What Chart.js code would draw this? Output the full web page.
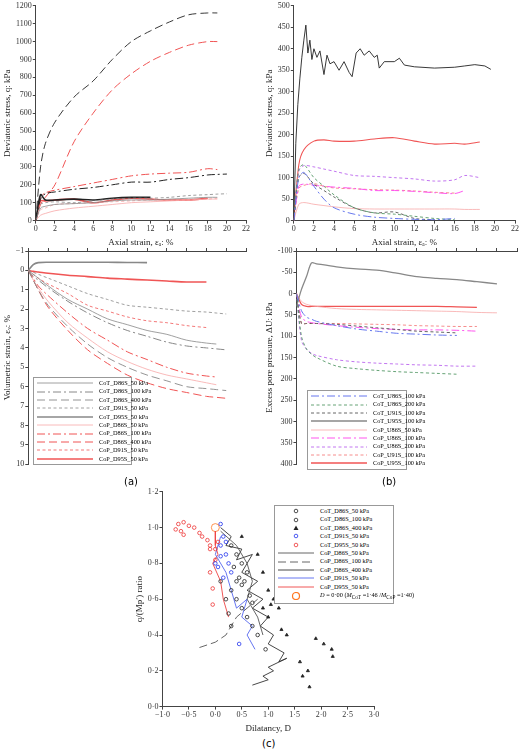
<!DOCTYPE html>
<html><head><meta charset="utf-8">
<script src="https://cdn.jsdelivr.net/npm/chart.js@4"></script>
<style>
body{margin:0;background:#fff;width:520px;height:755px;position:relative;overflow:hidden;font-family:"Liberation Serif",serif}
.box{position:absolute}
.leg{position:absolute;background:#fff;border:1px solid #999;font-size:6.3px;line-height:8.4px;padding:1px 3px}
.leg div{display:flex;align-items:center;white-space:nowrap}
.leg svg{margin-right:6px;flex:none}
.lab{position:absolute;font-family:"DejaVu Sans",sans-serif;font-size:10px}
</style></head><body>
<div class="box" style="left:0;top:0;width:252px;height:250px"><canvas id="c1"></canvas></div>
<div class="box" style="left:262px;top:0;width:258px;height:250px"><canvas id="c2"></canvas></div>
<div class="box" style="left:0;top:244px;width:252px;height:226px"><canvas id="c3"></canvas></div>
<div class="box" style="left:262px;top:244px;width:258px;height:226px"><canvas id="c4"></canvas></div>
<div class="box" style="left:132px;top:486px;width:250px;height:250px"><canvas id="c5"></canvas></div>
<div class="leg" id="l3" style="left:33px;top:377px;width:91px"></div>
<div class="leg" id="l4" style="left:307px;top:390px;width:92px"></div>
<div class="leg" id="l5" style="left:274px;top:505px;width:112px"></div>
<div class="lab" style="left:124px;top:476px">(a)</div>
<div class="lab" style="left:382px;top:476px">(b)</div>
<div class="lab" style="left:262px;top:738px">(c)</div>
<script>
// ---- (a) drained, q vs axial strain ----
const tlX = [0, 0.5, 1, 2, 4, 6, 8, 10, 12, 14, 16, 18, 19, 20];
const qT86_50  = [0, 70, 80, 90, 95, 100, 110, 115, 115, 120, 125, 130, 130, null];
const qT86_100 = [0, 120, 150, 160, 175, 185, 200, 215, 215, 230, 240, 255, 258, 260];
const qT86_400 = [0, 300, 430, 550, 690, 780, 900, 1000, 1060, 1110, 1150, 1160, 1160, null];
const qT91_50  = [0, 90, 100, 105, 100, 110, 120, 125, 125, 130, 140, 145, 148, 150];
const qT95_50  = [0, 145, 115, 115, 120, 115, 125, 130, 130, null, null, null, null, null];
const qP86_50  = [0, 30, 40, 55, 70, 80, 90, 100, 105, 110, 115, 120, 120, null];
const qP86_100 = [0, 130, 155, 170, 190, 210, 230, 250, 260, 265, 270, 290, 285, null];
const qP86_400 = [0, 90, 130, 200, 440, 600, 730, 820, 890, 940, 980, 1000, 1000, null];
const qP91_50  = [0, 60, 70, 90, 95, 100, 105, 110, 115, 115, 115, 120, 125, null];
const qP95_50  = [0, 110, 110, 115, 120, 100, 115, 125, 120, 115, 115, 125, null, null];

const evT86_50  = [0, 0.2, 0.4, 0.8, 1.5, 2.0, 2.5, 2.8, 3.1, 3.3, 3.6, 3.75, 3.8, null];
const evT86_100 = [0, 0.3, 0.5, 0.9, 1.6, 2.2, 2.7, 3.1, 3.4, 3.7, 3.9, 4.0, 4.05, 4.1];
const evT86_400 = [0, 0.5, 1.0, 1.8, 2.9, 3.8, 4.5, 5.0, 5.4, 5.7, 6.0, 6.1, 6.15, 6.2];
const evT91_50  = [0, 0.1, 0.2, 0.4, 0.8, 1.2, 1.5, 1.8, 1.9, 2.0, 2.1, 2.15, 2.2, 2.25];
const evT95_50  = [0, -0.3, -0.4, -0.42, -0.42, -0.42, -0.42, -0.41, -0.4, null, null, null, null, null];
const evP86_50  = [0, 0.5, 0.9, 1.6, 2.7, 3.5, 4.2, 4.7, 5.1, 5.4, 5.6, 5.8, 5.9, null];
const evP86_100 = [0, 0.4, 0.8, 1.3, 2.2, 3.0, 3.6, 4.2, 4.6, 5.0, 5.3, 5.45, 5.5, null];
const evP86_400 = [0, 0.5, 1.0, 1.9, 3.1, 4.1, 4.8, 5.4, 5.8, 6.1, 6.3, 6.5, 6.55, 6.6];
const evP91_50  = [0, 0.2, 0.4, 0.7, 1.2, 1.8, 2.1, 2.4, 2.6, 2.7, 2.85, 2.95, null, null];
const evP95_50  = [0, 0.05, 0.08, 0.15, 0.25, 0.32, 0.4, 0.45, 0.5, 0.55, 0.6, 0.6, null, null];

// ---- (b) undrained ----
const uT95X = [0,0.2,0.4,0.6,0.8,1.0,1.2,1.4,1.6,1.8,2.0,2.3,2.6,3.0,3.3,3.6,4.0,4.5,5.0,5.5,5.8,6.2,6.6,7.0,7.5,8.0,8.3,8.5,9,10,10.5,11,12,14,16,17,18,19,19.6];
const qUT95 = [0,180,270,330,380,420,455,390,420,375,400,380,395,340,385,365,370,350,370,345,335,390,400,385,395,380,385,355,370,370,378,362,358,355,357,360,363,360,352];
const trX = [0, 0.5, 1, 2, 3, 4, 6, 8, 10, 12, 14, 16, 17, 18.5];
const qUP95_100 = [0, 130, 165, 185, 188, 185, 185, 190, 193, 185, 178, 180, 178, 183];
const qUP86_200 = [0, 115, 128, 125, 120, 115, 105, 103, 100, 97, 92, 95, 105, 100];
const qUP86_100 = [0, 80, 85, 82, 80, 78, 75, 70, 70, 68, 65, 63, 70, null];
const qUP91_100 = [0, 75, 82, 86, 80, 76, 74, 72, 71, 69, 66, 64, null, null];
const qUT86_200 = [0, 120, 130, 100, 80, 60, 30, 18, 15, 10, 5, 2, null, null];
const qUT91_100 = [0, 100, 110, 85, 70, 55, 30, 18, 20, 5, 2, null, null, null];
const qUT86_100 = [0, 100, 112, 80, 50, 30, 15, 8, 5, 3, 2, 5, null, null];
const qUP86_50  = [0, 38, 42, 38, 35, 32, 28, 27, 27, 27, 27, 27, 26, 26];

const brX = [0, 0.5, 1, 1.5, 2, 4, 6, 8, 10, 12, 14, 16, 18, 20];
const duT95_100 = [30, -10, -40, -72, -70, -63, -58, -55, -48, -40, -36, -33, -28, -23];
const duP95_100 = [0, 25, 30, 30, 30, 30, 30, 30, 30, 30, 30, 31, 32, null];
const duP86_50  = [0, 18, 25, 28, 30, 35, 37, 38, 39, 40, 41, 42, 44, 45];
const duT86_100 = [0, 40, 55, 60, 65, 75, 83, 88, 93, 95, 97, 98, null, null];
const duT91_100 = [0, 70, 70, 70, 70, 72, 76, 80, 84, 88, 90, 92, null, null];
const duP91_100 = [0, 70, 70, 70, 70, 70, 71, 72, 73, 75, 76, 77, 77, null];
const duP86_100 = [0, 55, 65, 68, 70, 75, 79, 82, 84, 85, 85, 86, 88, null];
const duP86_200 = [0, 110, 130, 140, 145, 155, 160, 163, 165, 167, 168, 170, 170, null];
const duT86_200 = [0, 100, 130, 142, 150, 170, 176, 180, 183, 185, 187, 189, null, null];

// ---- (c) stress ratio vs dilatancy ----
const dT86_50 = [[0.3,0.9],[0.4,0.85],[0.5,0.8],[0.3,0.65],[0.4,0.6],[0.5,0.55],[0.6,0.5],[0.7,0.45],[0.8,0.4],[0.95,0.32],[0.3,0.45],[0.2,0.6],[0.1,0.7],[0.25,0.52]];
const dT86_100 = [[0.35,0.78],[0.45,0.72],[0.55,0.7],[0.5,0.68],[0.6,0.75],[0.4,0.7],[0.65,0.62],[0.7,0.58]];
const dT86_400 = [[0.5,0.95],[0.8,0.85],[0.9,0.75],[1.0,0.65],[1.1,0.6],[1.2,0.55],[1.25,0.43],[1.35,0.4],[1.9,0.38],[2.05,0.35],[2.2,0.32],[2.22,0.28],[1.6,0.25],[1.75,0.2],[1.65,0.17],[1.78,0.11],[0.9,0.55],[1.0,0.5],[1.05,0.57]];
const dT91_50 = [[0.1,1.02],[0.15,0.95],[0.1,0.9],[0.2,0.85],[0.1,0.84],[0.25,0.8],[0.3,0.75],[0.05,0.78],[0.15,0.72],[0.45,0.35],[0.0,0.8],[0.2,0.92]];
const dT95_50 = [[-0.75,0.99],[-0.7,1.02],[-0.65,0.98],[-0.6,1.03],[-0.6,0.96],[-0.5,1.01],[-0.4,1.0],[-0.3,0.97],[-0.25,0.95],[-0.15,0.93],[-0.1,0.9],[0,0.88],[0.05,0.92],[0,0.82],[-0.1,0.75],[-0.05,0.66],[-0.05,0.57],[-0.1,0.88]];
const dP86_50 = [[0.1,0.98],[0.4,0.9],[0.6,0.8],[0.7,0.7],[0.6,0.6],[0.8,0.5],[0.9,0.4]];
const dP86_100 = [[-0.3,0.33],[0,0.36],[0.2,0.4],[0.4,0.5],[0.6,0.55],[0.8,0.6]];
const dP86_400 = [[0.1,1.0],[0.3,0.95],[0.2,0.9],[0.5,0.88],[0.4,0.82],[0.7,0.85],[0.5,0.75],[0.8,0.7],[0.6,0.65],[0.9,0.6],[0.7,0.55],[1.0,0.5],[0.85,0.45],[1.1,0.4],[1.0,0.35],[1.3,0.3],[1.2,0.25],[1.35,0.27],[1.0,0.22],[1.1,0.2],[0.9,0.17],[1.0,0.15],[0.7,0.12]];
const dP91_50 = [[0.1,0.95],[0.0,0.85],[0.2,0.75],[0.3,0.65],[0.4,0.55],[0.6,0.6],[0.5,0.5],[0.7,0.45],[0.6,0.4],[0.75,0.32]];
const dP95_50 = [[0,0.98],[0,0.9],[0.05,0.85],[-0.05,0.8],[0.1,0.7],[0.15,0.6],[0.25,0.5]];
const dZero = [[0, 1.0]];

const FONT = {family: '"Liberation Serif", serif', size: 8};
const DASH = {solid: [], long: [8, 4], dashdot: [8, 3, 2, 3], short: [3, 2.5]};
const GREY = '#888', BLACK = '#222', PINK = '#f7a8a8', RED = '#f05555';

function zip(xs, ys) { return xs.map((x, i) => ({x: x, y: ys[i]})); }
function pairs(a) { return a.map(p => ({x: p[0], y: p[1]})); }
function line(label, data, color, dash, width) {
    return {type: 'line', label: label, data: data, borderColor: color, borderDash: DASH[dash],
        borderWidth: width || 0.9, pointRadius: 0, tension: 0.3, spanGaps: false, fill: false};
}
function dot(label, data, color, style, r) {
    return {type: 'scatter', label: label, data: pairs(data), borderColor: color, backgroundColor: style === 'triangle' ? color : 'transparent',
        pointStyle: style, pointRadius: r || 1.8, borderWidth: 0.8, showLine: false};
}
function axisTitle(text) { return {display: !!text, text: text, font: {family: FONT.family, size: 9}, color: '#222', padding: 2}; }
function baseScales(xOpt, yOpt) {
    return {
        x: Object.assign({type: 'linear', grid: {drawOnChartArea: false, color: '#444', tickLength: 3}, border: {color: '#444'},
            ticks: {font: FONT, color: '#333', padding: 1}}, xOpt),
        y: Object.assign({type: 'linear', grid: {drawOnChartArea: false, color: '#444', tickLength: 3}, border: {color: '#444'},
            ticks: {font: FONT, color: '#333', padding: 1}}, yOpt)
    };
}
function makeChart(id, datasets, scales, pad) {
    return new Chart(document.getElementById(id), {
        type: 'line', data: {datasets: datasets},
        options: {responsive: true, maintainAspectRatio: false, animation: false,
            layout: {padding: pad}, plugins: {legend: {display: false}, tooltip: {enabled: false}}, scales: scales}
    });
}
function legend(id, items) {
    const el = document.getElementById(id);
    el.innerHTML = items.map(it => {
        let sample;
        if (it.marker) {
            const m = it.marker === 'triangle' ? '<path d="M18 1.5 L20.5 6 L15.5 6 Z" fill="' + it.color + '"/>'
                : '<circle cx="18" cy="4" r="' + (it.r || 1.8) + '" fill="none" stroke="' + it.color + '" stroke-width="' + (it.r ? 1.2 : 0.8) + '"/>';
            sample = '<svg width="36" height="8">' + m + '</svg>';
        } else {
            sample = '<svg width="' + (it.w || 56) + '" height="8"><line x1="0" y1="4" x2="' + (it.w || 56) + '" y2="4" stroke="' + it.color +
                '" stroke-width="' + (it.width || 0.9) + '" stroke-dasharray="' + DASH[it.dash].join(' ') + '"/></svg>';
        }
        return '<div>' + sample + '<span>' + it.label + '</span></div>';
    }).join('');
}

const drainedStyles = [
    ['CoT_D86S_50 kPa', GREY, 'solid', 0.8], ['CoT_D86S_100 kPa', GREY, 'dashdot', 1], ['CoT_D86S_400 kPa', GREY, 'long', 0.9],
    ['CoT_D91S_50 kPa', GREY, 'short', 0.8], ['CoT_D95S_50 kPa', GREY, 'solid', 1.6], ['CoP_D86S_50 kPa', PINK, 'solid', 0.8],
    ['CoP_D86S_100 kPa', RED, 'dashdot', 1], ['CoP_D86S_400 kPa', RED, 'long', 1], ['CoP_D91S_50 kPa', RED, 'short', 0.8],
    ['CoP_D95S_50 kPa', RED, 'solid', 1.6]
];
const qDrained = [qT86_50, qT86_100, qT86_400, qT91_50, qT95_50, qP86_50, qP86_100, qP86_400, qP91_50, qP95_50];
const evDrained = [evT86_50, evT86_100, evT86_400, evT91_50, evT95_50, evP86_50, evP86_100, evP86_400, evP91_50, evP95_50];
const qColors1 = [GREY, BLACK, BLACK, GREY, BLACK, PINK, RED, RED, PINK, RED];

makeChart('c1', drainedStyles.map((s, i) => line(s[0], zip(tlX, qDrained[i]), qColors1[i], s[2], s[3])),
    baseScales({min: 0, max: 22, ticks: {stepSize: 2, font: FONT, color: '#333', padding: 1}, title: axisTitle('Axial strain, εₐ: %')},
               {min: 0, max: 1200, ticks: {stepSize: 100, font: FONT, color: '#333', padding: 1, callback: v => String(v)},
                 title: axisTitle('Deviatoric stress, q: kPa')}),
    {top: 4, right: 6});

makeChart('c3', drainedStyles.map((s, i) => line(s[0], zip(tlX, evDrained[i]), s[1], s[2], s[3])),
    baseScales({min: 0, max: 22, position: 'top', ticks: {display: false, stepSize: 2}},
               {min: -1, max: 10, reverse: true, ticks: {stepSize: 1, font: FONT, color: '#333', padding: 1,
                 callback: v => v < 0 ? '−' + (-v) : v}, title: axisTitle('Volumetric strain, εᵥ: %')}),
    {top: 4, right: 6, bottom: 4});
legend('l3', drainedStyles.map(s => ({label: s[0], color: s[1], dash: s[2], width: s[3]})));

const undrained = [
    ['CoT_U86S_100 kPa', '#6677ee', 'dashdot', 1], ['CoT_U86S_200 kPa', '#559966', 'short', 0.9], ['CoT_U91S_100 kPa', '#555', 'short', 0.9],
    ['CoT_U95S_100 kPa', GREY, 'solid', 1.3], ['CoP_U86S_50 kPa', PINK, 'solid', 0.8], ['CoP_U86S_100 kPa', '#ff55ee', 'dashdot', 1],
    ['CoP_U86S_200 kPa', '#bb66ee', 'short', 0.9], ['CoP_U91S_100 kPa', '#f58080', 'short', 0.9], ['CoP_U95S_100 kPa', RED, 'solid', 1.3]
];
const qUnd = [qUT86_100, qUT86_200, qUT91_100, null, qUP86_50, qUP86_100, qUP86_200, qUP91_100, qUP95_100];
const duUnd = [duT86_100, duT86_200, duT91_100, duT95_100, duP86_50, duP86_100, duP86_200, duP91_100, duP95_100];

makeChart('c2', undrained.map((s, i) => i === 3 ? Object.assign(line(s[0], zip(uT95X, qUT95), BLACK, 'solid', 0.9), {tension: 0})
        : line(s[0], zip(trX, qUnd[i]), s[1], s[2], s[3] === 1.3 ? 1.1 : s[3])),
    baseScales({min: 0, max: 22, ticks: {stepSize: 2, font: FONT, color: '#333', padding: 1}, title: axisTitle('Axial strain, εₐ: %')},
               {min: 0, max: 500, ticks: {stepSize: 50, font: FONT, color: '#333', padding: 1}, title: axisTitle('Deviatoric stress, q: kPa')}),
    {top: 4, right: 3});

makeChart('c4', undrained.map((s, i) => line(s[0], zip(brX, duUnd[i]), s[1], s[2], s[3])),
    baseScales({min: 0, max: 22, position: 'top', ticks: {display: false, stepSize: 2}},
               {min: -100, max: 400, reverse: true, ticks: {stepSize: 50, font: FONT, color: '#333', padding: 1},
                 title: axisTitle('Excess pore pressure, ΔU: kPa')}),
    {top: 4, right: 3, bottom: 4});
legend('l4', undrained.map(s => ({label: s[0], color: s[1], dash: s[2], width: s[3]})));

const fmt = v => (v < 0 ? '−' : '') + Math.abs(v).toFixed(1).replace('.', '·');
makeChart('c5', [
        dot('CoT_D86S_50 kPa', dT86_50, BLACK, 'circle'), dot('CoT_D86S_100 kPa', dT86_100, BLACK, 'circle'),
        dot('CoT_D86S_400 kPa', dT86_400, BLACK, 'triangle', 1.8), dot('CoT_D91S_50 kPa', dT91_50, '#2233ee', 'circle'),
        dot('CoT_D95S_50 kPa', dT95_50, '#ee3333', 'circle'),
        Object.assign(line('CoP_D86S_50 kPa', pairs(dP86_50), '#555', 'solid', 0.9), {tension: 0}),
        Object.assign(line('CoP_D86S_100 kPa', pairs(dP86_100), '#555', 'long', 0.9), {tension: 0}),
        Object.assign(line('CoP_D86S_400 kPa', pairs(dP86_400), '#333', 'solid', 0.9), {tension: 0}),
        Object.assign(line('CoP_D91S_50 kPa', pairs(dP91_50), '#5566ee', 'solid', 0.9), {tension: 0}),
        Object.assign(line('CoP_D95S_50 kPa', pairs(dP95_50), '#ee4444', 'solid', 0.9), {tension: 0}),
        dot('D = 0·00', dZero, '#ff7722', 'circle', 4)
    ],
    baseScales({min: -1, max: 3, ticks: {stepSize: 0.5, font: FONT, color: '#333', padding: 1, callback: fmt}, title: axisTitle('Dilatancy, D')},
               {min: 0, max: 1.2, ticks: {stepSize: 0.2, font: FONT, color: '#333', padding: 1, callback: fmt}, title: axisTitle("q/(Mp′) ratio")}),
    {top: 4, right: 8});
legend('l5', [
    {label: 'CoT_D86S_50 kPa', color: BLACK, marker: 'circle'}, {label: 'CoT_D86S_100 kPa', color: BLACK, marker: 'circle'},
    {label: 'CoT_D86S_400 kPa', color: BLACK, marker: 'triangle'}, {label: 'CoT_D91S_50 kPa', color: '#2233ee', marker: 'circle'},
    {label: 'CoT_D95S_50 kPa', color: '#ee3333', marker: 'circle'},
    {label: 'CoP_D86S_50 kPa', color: '#555', dash: 'solid', w: 36}, {label: 'CoP_D86S_100 kPa', color: '#555', dash: 'long', w: 36},
    {label: 'CoP_D86S_400 kPa', color: '#333', dash: 'solid', w: 36}, {label: 'CoP_D91S_50 kPa', color: '#5566ee', dash: 'solid', w: 36},
    {label: 'CoP_D95S_50 kPa', color: '#ee4444', dash: 'solid', w: 36},
    {label: '<i>D</i> = 0·00 (<i>M</i><sub>CoT</sub> =1·46 /<i>M</i><sub>CoP</sub> =1·40)', color: '#ff7722', marker: 'circle', r: 3.5}
]);
</script></body></html>
